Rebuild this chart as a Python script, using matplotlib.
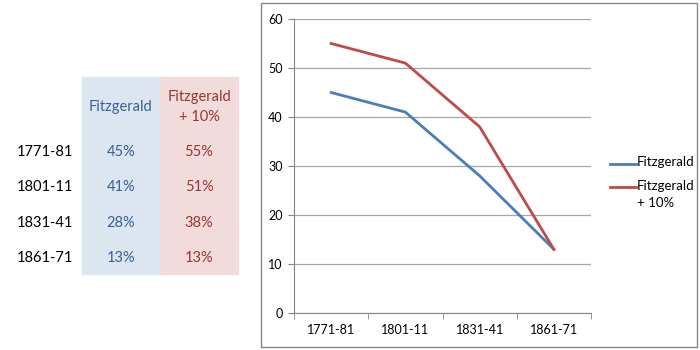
import numpy as np
import matplotlib.pyplot as plt
from matplotlib.patches import Rectangle
from matplotlib.lines import Line2D

plt.rcParams['font.family'] = ['Lato', 'DejaVu Sans']

# data
periods = ['1771-81', '1801-11', '1831-41', '1861-71']
fitzgerald = [45, 41, 28, 13]
fitzgerald_plus = [55, 51, 38, 13]
series_names = ['Fitzgerald', 'Fitzgerald\n+ 10%']

blue_line = '#4a7ebb'
red_line = '#be4b48'
blue_text = '#376092'
red_text = '#953735'

fig = plt.figure(figsize=(7, 3.5), dpi=100)

# pixel -> figure fraction helpers
W, H = 700.0, 350.0
def fx(px):
    return px / W
def fy(py):
    return 1 - py / H

# table on the left
fig.patches.append(Rectangle((fx(82), fy(274)), fx(160) - fx(82), fy(77) - fy(274),
                             transform=fig.transFigure, color='#dce6f1', zorder=0))
fig.patches.append(Rectangle((fx(160), fy(274)), fx(238) - fx(160), fy(77) - fy(274),
                             transform=fig.transFigure, color='#f2dcdb', zorder=0))

fig.text(fx(121), fy(107), series_names[0], color=blue_text, fontsize=10.5,
         ha='center', va='center')
fig.text(fx(199), fy(107), series_names[1], color=red_text, fontsize=10.5,
         ha='center', va='center', linespacing=1.5)

row_y = [152, 187, 223, 258]
for i, p in enumerate(periods):
    fig.text(fx(17), fy(row_y[i]), p, color='black', fontsize=10.5, ha='left', va='center')
    fig.text(fx(121), fy(row_y[i]), f'{fitzgerald[i]}%', color=blue_text, fontsize=10.5,
             ha='center', va='center')
    fig.text(fx(199), fy(row_y[i]), f'{fitzgerald_plus[i]}%', color=red_text, fontsize=10.5,
             ha='center', va='center')

# chart border
fig.patches.append(Rectangle((fx(261), fy(347)), fx(697) - fx(261), fy(3) - fy(347),
                             transform=fig.transFigure, fill=False, edgecolor='#868686',
                             linewidth=1))

# chart
ax = fig.add_axes([fx(294), fy(313), fx(591) - fx(294), fy(19) - fy(313)])
x = np.arange(len(periods))
ax.plot(x, fitzgerald, color=blue_line, linewidth=2)
ax.plot(x, fitzgerald_plus, color=red_line, linewidth=2)

ax.set_xlim(-0.5, len(periods) - 0.5)
ax.set_ylim(0, 60)
ax.set_yticks(np.arange(0, 61, 10))
ax.set_xticks(x)
ax.set_xticklabels(periods)
ax.set_xticks(np.arange(-0.5, len(periods), 1), minor=True)
ax.tick_params(axis='x', which='major', length=0, labelsize=9, pad=8)
ax.tick_params(axis='x', which='minor', length=4, color='#868686', direction='out')
ax.tick_params(axis='y', length=4, color='#868686', labelsize=9, pad=4)
ax.yaxis.grid(True, color='#a6a6a6', linewidth=0.9)
ax.set_axisbelow(True)
for s in ['top', 'right']:
    ax.spines[s].set_visible(False)
for s in ['left', 'bottom']:
    ax.spines[s].set_color('#868686')

# legend, drawn by hand so the handle sits on the first line of each label
legend_y = [164, 187]
for name, col, ly in zip(series_names, [blue_line, red_line], legend_y):
    fig.add_artist(Line2D([fx(610), fx(636)], [fy(ly), fy(ly)], color=col, linewidth=2,
                          transform=fig.transFigure))
    fig.text(fx(637), fy(ly - 7.5), name, fontsize=9.5, ha='left', va='top', linespacing=1.5)

fig.savefig('out.png', dpi=100)
